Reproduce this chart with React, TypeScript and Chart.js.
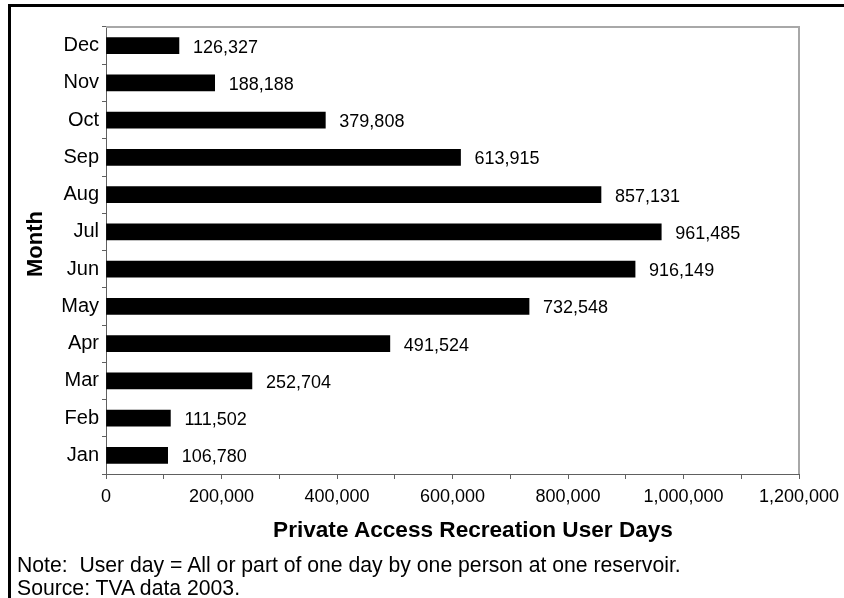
import React, { useEffect, useRef } from "react";
import { Chart, registerables } from "chart.js";

Chart.register(...registerables);

const months = ["Jan", "Feb", "Mar", "Apr", "May", "Jun", "Jul", "Aug", "Sep", "Oct", "Nov", "Dec"];
const userDays = [106780, 111502, 252704, 491524, 732548, 916149, 961485, 857131, 613915, 379808, 188188, 126327];
const xTickMax = 1200000;
const xTickStep = 100000;
const xLabelStep = 200000;
const xTitle = "Private Access Recreation User Days";
const yTitle = "Month";
const noteLines = [
  "Note:\u00a0 User day = All or part of one day by one person at one reservoir.",
  "Source: TVA data 2003.",
];

const FONT = "'Liberation Sans', Arial, Helvetica, sans-serif";
const fmt = (v: number) => v.toLocaleString("en-US");

const frameAndLabels = {
  id: "frameAndLabels",
  beforeDatasetsDraw(chart: any) {
    const { ctx, chartArea } = chart;
    ctx.save();
    ctx.strokeStyle = "#a8a8a8";
    ctx.lineWidth = 2;
    ctx.beginPath();
    ctx.moveTo(chartArea.left, chartArea.top);
    ctx.lineTo(chartArea.right, chartArea.top);
    ctx.lineTo(chartArea.right, chartArea.bottom);
    ctx.stroke();
    ctx.restore();
  },
  afterDatasetsDraw(chart: any) {
    const { ctx } = chart;
    const meta = chart.getDatasetMeta(0);
    ctx.save();
    ctx.fillStyle = "#000";
    ctx.font = `18px ${FONT}`;
    ctx.textAlign = "left";
    ctx.textBaseline = "middle";
    meta.data.forEach((bar: any, i: number) => {
      const v = chart.data.datasets[0].data[i] as number;
      ctx.fillText(fmt(v), bar.x + 14, bar.y + 2);
    });
    ctx.restore();
  },
};

export default function App() {
  const ref = useRef<HTMLCanvasElement>(null);
  useEffect(() => {
    if (!ref.current) return;
    const chart = new Chart(ref.current, {
      type: "bar",
      data: {
        labels: months,
        datasets: [
          {
            data: userDays,
            backgroundColor: "#000",
            borderWidth: 0,
            barThickness: 16,
          },
        ],
      },
      options: {
        indexAxis: "y",
        animation: false,
        responsive: false,
        maintainAspectRatio: false,
        layout: { padding: { left: 0, right: 45, top: 27, bottom: 54 } },
        plugins: { legend: { display: false }, tooltip: { enabled: false } },
        scales: {
          x: {
            min: 0,
            max: xTickMax,
            afterFit: (s: any) => {
              s.height = 70;
              s.paddingLeft = 0;
              s.paddingRight = 0;
            },
            border: { color: "#606060", width: 1 },
            grid: { drawOnChartArea: false, drawTicks: true, tickLength: 5, color: "#606060" },
            ticks: {
              stepSize: xTickStep,
              autoSkip: false,
              maxRotation: 0,
              padding: 7,
              color: "#000",
              font: { family: FONT, size: 18 },
              callback: (v: any) => (Number(v) % xLabelStep === 0 ? fmt(Number(v)) : ""),
            },
          },
          y: {
            reverse: true,
            afterFit: (s: any) => {
              s.width = 106;
              s.paddingTop = 0;
              s.paddingBottom = 0;
            },
            border: { color: "#606060", width: 1 },
            grid: { drawOnChartArea: false, drawTicks: true, tickLength: 4, color: "#606060", offset: true },
            ticks: {
              padding: 3,
              color: "#000",
              font: { family: FONT, size: 20 },
            },
          },
        },
      },
      plugins: [frameAndLabels],
    });
    return () => chart.destroy();
  }, []);

  return (
    <div style={{ position: "absolute", left: 0, top: 0, width: 844, height: 598, overflow: "hidden", background: "#fff" }}>
      <div
        style={{
          position: "absolute",
          left: 8,
          top: 4,
          width: 900,
          height: 700,
          border: "3px solid #000",
          boxSizing: "border-box",
        }}
      />
      <canvas ref={ref} width={844} height={598} style={{ position: "absolute", left: 0, top: 0 }} />
      <div
        style={{
          position: "absolute",
          left: 273,
          top: 516,
          width: 400,
          textAlign: "center",
          fontFamily: FONT,
          fontSize: 22.6,
          fontWeight: "bold",
          lineHeight: "28px",
          whiteSpace: "nowrap",
          color: "#000",
        }}
      >
        {xTitle}
      </div>
      <div
        style={{
          position: "absolute",
          left: 35 - 60,
          top: 244 - 14,
          width: 120,
          height: 28,
          textAlign: "center",
          fontFamily: FONT,
          fontSize: 22,
          fontWeight: "bold",
          lineHeight: "28px",
          whiteSpace: "nowrap",
          color: "#000",
          transform: "rotate(-90deg)",
        }}
      >
        {yTitle}
      </div>
      <div
        style={{
          position: "absolute",
          left: 17,
          top: 553,
          fontFamily: FONT,
          fontSize: 21.2,
          lineHeight: "23px",
          color: "#000",
          whiteSpace: "pre",
        }}
      >
        {noteLines.map((l, i) => (
          <div key={i}>{l}</div>
        ))}
      </div>
    </div>
  );
}
